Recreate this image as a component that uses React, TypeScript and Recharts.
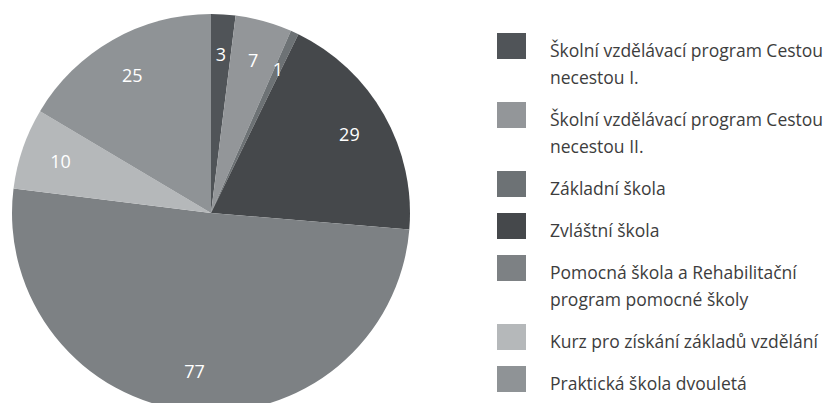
import { Cell, Pie, PieChart } from "recharts";

const CATEGORIES = [
  "Školní vzdělávací program Cestou necestou I.",
  "Školní vzdělávací program Cestou necestou II.",
  "Základní škola",
  "Zvláštní škola",
  "Pomocná škola a Rehabilitační program pomocné školy",
  "Kurz pro získání základů vzdělání",
  "Praktická škola dvouletá",
];
const VALUES = [3, 7, 1, 29, 77, 10, 25];
const COLORS = ["#505458", "#939699", "#6d7275", "#45484b", "#7d8184", "#b5b8ba", "#8f9396"];

const FONT = "'Open Sans', 'DejaVu Sans', sans-serif";
const RADIAN = Math.PI / 180;

const data = CATEGORIES.map((name, i) => ({ name, value: VALUES[i] }));

function renderLabel(props: any) {
  const { cx, cy, midAngle, outerRadius, value } = props;
  const r = outerRadius * 0.8;
  const x = cx + r * Math.cos(-midAngle * RADIAN);
  const y = cy + r * Math.sin(-midAngle * RADIAN);
  return (
    <text x={x} y={y} fill="#ffffff" fontSize={18} fontFamily={FONT} textAnchor="middle" dominantBaseline="central">
      {value}
    </text>
  );
}

export default function App() {
  return (
    <div style={{ position: "absolute", left: 0, top: 0, width: 831, height: 403, background: "#fff", overflow: "hidden" }}>
      <PieChart width={440} height={403} margin={{ top: 0, right: 0, bottom: 0, left: 0 }}>
        <Pie
          data={data}
          dataKey="value"
          nameKey="name"
          cx={211}
          cy={213}
          outerRadius={199}
          startAngle={90}
          endAngle={-270}
          stroke="none"
          label={renderLabel}
          labelLine={false}
          isAnimationActive={false}
        >
          {data.map((d, i) => (
            <Cell key={d.name} fill={COLORS[i]} />
          ))}
        </Pie>
      </PieChart>
      <div
        style={{
          position: "absolute",
          left: 497,
          top: 37,
          width: 334,
          display: "flex",
          flexDirection: "column",
          gap: 15,
          fontFamily: FONT,
          fontSize: 17.5,
          lineHeight: "27px",
          color: "#3d3d3d",
        }}
      >
        {data.map((d, i) => (
          <div key={d.name} style={{ display: "flex", alignItems: "flex-start" }}>
            <span style={{ width: 29, height: 26, background: COLORS[i], flex: "none", marginTop: -4 }} />
            <span style={{ marginLeft: 24, width: 282 }}>{d.name}</span>
          </div>
        ))}
      </div>
    </div>
  );
}
